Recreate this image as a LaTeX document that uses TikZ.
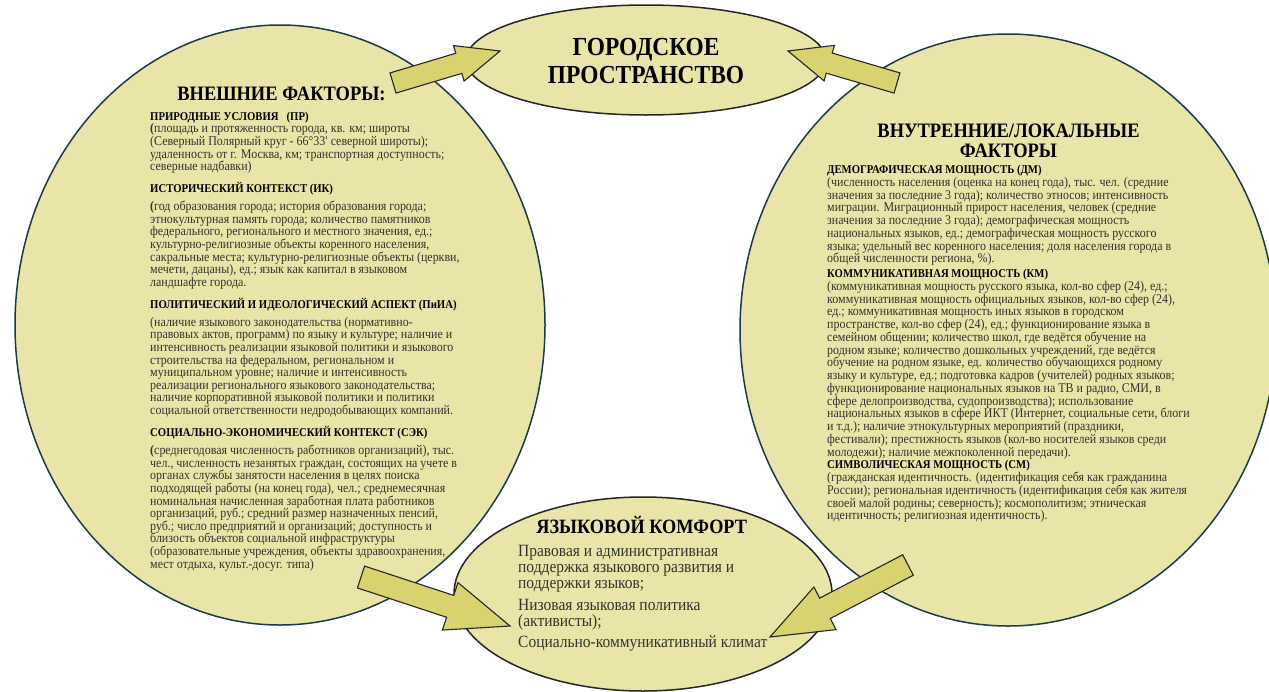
\documentclass[tikz,border=0pt]{standalone}
\usepackage{fontspec}
\setmainfont{Liberation Serif}[FakeStretch=0.9]
\usetikzlibrary{shapes.geometric,calc}

\definecolor{khaki}{HTML}{E9E4A8}
\definecolor{arrowkhaki}{HTML}{D9D36F}
\definecolor{tealline}{HTML}{1D3A48}
\definecolor{bodyink}{HTML}{34342E}

% block arrow: tail, tip, shaft half-width, head half-width, head length
\newcommand{\blkarrow}[5]{%
  \path ($(#2)!#5!(#1)$) coordinate (bh);
  \draw[blockarrow] ($(#1)!#3!90:(#2)$) -- ($(bh)!#3!90:(#2)$) --
    ($(bh)!#4!90:(#2)$) -- (#2) -- ($(bh)!#4!-90:(#2)$) --
    ($(bh)!#3!-90:(#2)$) -- ($(#1)!#3!-90:(#2)$) -- cycle;
}
\newcommand{\sechead}[1]{{\fontsize{11.9}{14}\selectfont\bfseries\color{black}#1}}
\newcommand{\bp}{{\bfseries(}}

\tikzset{
  bigoval/.style={ellipse, draw=tealline, fill=khaki, line width=1.5pt, inner sep=0pt},
  smalloval/.style={ellipse, draw=black!85, fill=khaki, line width=1.5pt, inner sep=0pt},
  blockarrow/.style={fill=arrowkhaki, draw=black!85, line width=1.1pt, line join=miter},
  titletext/.style={font=\bfseries, text=black, inner sep=0pt, align=center},
  bodytext/.style={text=bodyink, inner sep=0pt, align=left, anchor=north west},
}

\begin{document}
\begin{tikzpicture}[x=1pt,y=-1pt]
\useasboundingbox (0,0) rectangle (1269,691);
\fill[white] (0,0) rectangle (1269,691);

% the four ovals
\node[bigoval, minimum width=530pt, minimum height=600pt] (outer) at (280,325) {};
\node[bigoval, minimum width=536pt, minimum height=592pt] (inner) at (1008,330) {};
\node[smalloval, minimum width=360pt, minimum height=110pt] (city) at (646,60) {};
\node[smalloval, minimum width=378pt, minimum height=194pt] (comfort) at (643,594) {};

% arrows between the ovals
\coordinate (tlA) at (393,83);  \coordinate (tlB) at (500,51);
\coordinate (trA) at (897,83);  \coordinate (trB) at (788,51);
\coordinate (blA) at (361,577); \coordinate (blB) at (510,626);
\coordinate (brA) at (908,565); \coordinate (brB) at (770,637);
\blkarrow{tlA}{tlB}{10.5pt}{18.5pt}{43pt}
\blkarrow{trA}{trB}{10.5pt}{18.5pt}{43pt}
\blkarrow{blA}{blB}{11.5pt}{25pt}{63pt}
\blkarrow{brA}{brB}{11.5pt}{24pt}{62pt}

% titles
\node[titletext, anchor=north, font=\fontsize{26}{28.3}\selectfont\bfseries] (citytitle) at (646,35)
  {\rule{0pt}{20pt}ГОРОДСКОЕ\\ПРОСТРАНСТВО};
\node[titletext, anchor=north, font=\fontsize{20.5}{22}\selectfont\bfseries] (outertitle) at (281.5,84)
  {\rule{0pt}{16pt}ВНЕШНИЕ ФАКТОРЫ:};
\node[titletext, anchor=north, font=\fontsize{20.5}{19.6}\selectfont\bfseries] (innertitle) at (1008.5,119.7)
  {\rule{0pt}{18pt}ВНУТРЕННИЕ/ЛОКАЛЬНЫЕ\\ФАКТОРЫ};
\node[titletext, anchor=north, font=\fontsize{20.3}{22}\selectfont\bfseries] (comforttitle) at (641.7,514.3)
  {\rule{0pt}{19pt}ЯЗЫКОВОЙ КОМФОРТ};

% external factors
\node[bodytext, font=\fontsize{13.3}{12.6}\selectfont] (outertext) at (150,110) {%
\rule{0pt}{10pt}\sechead{ПРИРОДНЫЕ УСЛОВИЯ \ \ (ПР)}\\
\bp площадь и протяженность города, кв. км; широты\\
(Северный Полярный круг - 66°33\textquotesingle{} северной широты);\\
удаленность от г. Москва, км; транспортная доступность;\\
северные надбавки)\\[8pt]
\sechead{ИСТОРИЧЕСКИЙ КОНТЕКСТ (ИК)}\\[5.5pt]
\bp год образования города; история образования города;\\
этнокультурная память города; количество памятников\\
федерального, регионального и местного значения, ед.;\\
культурно-религиозные объекты коренного населения,\\
сакральные места; культурно-религиозные объекты (церкви,\\
мечети, дацаны), ед.; язык как капитал в языковом\\
ландшафте города.\\[8pt]
\sechead{ПОЛИТИЧЕСКИЙ И ИДЕОЛОГИЧЕСКИЙ АСПЕКТ (ПиИА)}\\[5.5pt]
(наличие языкового законодательства (нормативно-\\
правовых актов, программ) по языку и культуре; наличие и\\
интенсивность реализации языковой политики и языкового\\
строительства на федеральном, региональном и\\
муниципальном уровне; наличие и интенсивность\\
реализации регионального языкового законодательства;\\
наличие корпоративной языковой политики и политики\\
социальной ответственности недродобывающих компаний.\\[8pt]
\sechead{СОЦИАЛЬНО-ЭКОНОМИЧЕСКИЙ КОНТЕКСТ (СЭК)}\\[5.5pt]
\bp среднегодовая численность работников организаций), тыс.\\
чел., численность незанятых граждан, состоящих на учете в\\
органах службы занятости населения в целях поиска\\
подходящей работы (на конец года), чел.; среднемесячная\\
номинальная начисленная заработная плата работников\\
организаций, руб.; средний размер назначенных пенсий,\\
руб.; число предприятий и организаций; доступность и\\
близость объектов социальной инфраструктуры\\
(образовательные учреждения, объекты здравоохранения,\\
мест отдыха, культ.-досуг. типа)};

% internal / local factors
\node[bodytext, font=\fontsize{13.3}{12.75}\selectfont] (innertext) at (827,163.3) {%
\rule{0pt}{10pt}\sechead{ДЕМОГРАФИЧЕСКАЯ МОЩНОСТЬ (ДМ)}\\
(численность населения (оценка на конец года), тыс. чел. (средние\\
значения за последние 3 года); количество этносов; интенсивность\\
миграции. Миграционный прирост населения, человек (средние\\
значения за последние 3 года); демографическая мощность\\
национальных языков, ед.; демографическая мощность русского\\
языка; удельный вес коренного населения; доля населения города в\\
общей численности региона, \%).\\[2pt]
\sechead{КОММУНИКАТИВНАЯ МОЩНОСТЬ (КМ)}\\
(коммуникативная мощность русского языка, кол-во сфер (24), ед.;\\
коммуникативная мощность официальных языков, кол-во сфер (24),\\
ед.; коммуникативная мощность иных языков в городском\\
пространстве, кол-во сфер (24), ед.; функционирование языка в\\
семейном общении; количество школ, где ведётся обучение на\\
родном языке; количество дошкольных учреждений, где ведётся\\
обучение на родном языке, ед. количество обучающихся родному\\
языку и культуре, ед.; подготовка кадров (учителей) родных языков;\\
функционирование национальных языков на ТВ и радио, СМИ, в\\
сфере делопроизводства, судопроизводства); использование\\
национальных языков в сфере ИКТ (Интернет, социальные сети, блоги\\
и т.д.); наличие этнокультурных мероприятий (праздники,\\
фестивали); престижность языков (кол-во носителей языков среди\\
молодежи); наличие межпоколенной передачи).\\
\sechead{СИМВОЛИЧЕСКАЯ МОЩНОСТЬ (СМ)}\\
(гражданская идентичность. (идентификация себя как гражданина\\
России); региональная идентичность (идентификация себя как жителя\\
своей малой родины; северность); космополитизм; этническая\\
идентичность; религиозная идентичность).};

% language comfort
\node[bodytext, font=\fontsize{17.2}{15.8}\selectfont] (comforttext) at (518,543.7) {%
\rule{0pt}{13pt}Правовая и административная\\
поддержка языкового развития и\\
поддержки языков;\\[6pt]
Низовая языковая политика\\
(активисты);\\[6pt]
Социально-коммуникативный климат};
\end{tikzpicture}
\end{document}
